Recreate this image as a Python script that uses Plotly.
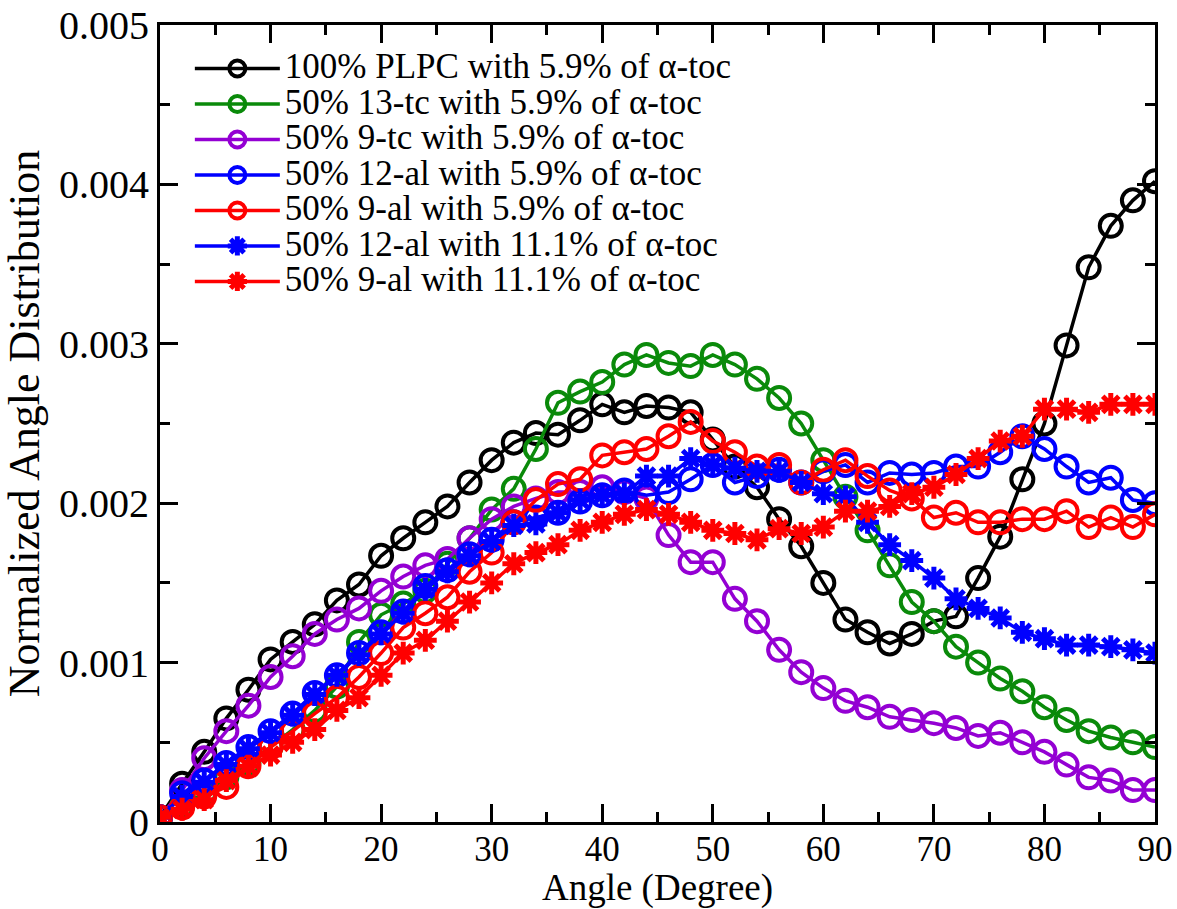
import plotly.graph_objects as go

angle = list(range(0, 92, 2))

plpc_59 = [0.00003, 0.00024, 0.00044, 0.00065, 0.00083, 0.00102, 0.00113, 0.00124, 0.00139, 0.00149,
           0.00167, 0.00178, 0.00188, 0.00198, 0.00213, 0.00227, 0.00238, 0.00244, 0.00243, 0.00252,
           0.00262, 0.00257, 0.00261, 0.00260, 0.00257, 0.00240, 0.00223, 0.00210, 0.00190, 0.00173,
           0.00150, 0.00127, 0.00119, 0.00112, 0.00118, 0.00126, 0.00129, 0.00153, 0.00179, 0.00215,
           0.00250, 0.00299, 0.00348, 0.00374, 0.00390, 0.00402]

tc13_59 = [0.00003, 0.00010, 0.00018, 0.00028, 0.00037, 0.00047, 0.00058, 0.00070, 0.00085, 0.00113,
           0.00130, 0.00137, 0.00145, 0.00162, 0.00178, 0.00196, 0.00209, 0.00234, 0.00263, 0.00270,
           0.00276, 0.00287, 0.00293, 0.00288, 0.00286, 0.00293, 0.00287, 0.00278, 0.00266, 0.00250,
           0.00227, 0.00204, 0.00183, 0.00161, 0.00138, 0.00126, 0.00110, 0.00100, 0.00090, 0.00082,
           0.00072, 0.00064, 0.00057, 0.00053, 0.00050, 0.00047]

tc9_59 = [0.00003, 0.00020, 0.00040, 0.00057, 0.00073, 0.00091, 0.00104, 0.00118, 0.00127, 0.00134,
          0.00145, 0.00154, 0.00161, 0.00165, 0.00178, 0.00190, 0.00198, 0.00203, 0.00207, 0.00207,
          0.00210, 0.00207, 0.00203, 0.00180, 0.00163, 0.00163, 0.00140, 0.00126, 0.00108, 0.00094,
          0.00084, 0.00076, 0.00072, 0.00066, 0.00064, 0.00062, 0.00059, 0.00054, 0.00056, 0.00050,
          0.00044, 0.00036, 0.00028, 0.00026, 0.00020, 0.00020]

al12_59 = [0.00003, 0.00018, 0.00026, 0.00037, 0.00047, 0.00057, 0.00068, 0.00081, 0.00092, 0.00106,
           0.00119, 0.00132, 0.00148, 0.00158, 0.00168, 0.00177, 0.00188, 0.00191, 0.00194, 0.00201,
           0.00205, 0.00208, 0.00205, 0.00207, 0.00215, 0.00224, 0.00213, 0.00217, 0.00221, 0.00213,
           0.00220, 0.00224, 0.00213, 0.00219, 0.00218, 0.00219, 0.00223, 0.00223, 0.00232, 0.00242,
           0.00234, 0.00223, 0.00213, 0.00216, 0.00202, 0.00200]

al9_59 = [0.00003, 0.00009, 0.00016, 0.00022, 0.00035, 0.00047, 0.00057, 0.00068, 0.00078, 0.00091,
          0.00106, 0.00122, 0.00131, 0.00141, 0.00157, 0.00169, 0.00188, 0.00202, 0.00212, 0.00215,
          0.00230, 0.00232, 0.00234, 0.00242, 0.00251, 0.00239, 0.00232, 0.00223, 0.00224, 0.00213,
          0.00221, 0.00227, 0.00217, 0.00208, 0.00203, 0.00191, 0.00194, 0.00188, 0.00188, 0.00190,
          0.00190, 0.00195, 0.00185, 0.00191, 0.00185, 0.00193]

al12_111 = [0.00003, 0.00016, 0.00025, 0.00036, 0.00046, 0.00056, 0.00067, 0.00080, 0.00092, 0.00105,
            0.00118, 0.00131, 0.00146, 0.00157, 0.00167, 0.00176, 0.00186, 0.00187, 0.00194, 0.00202,
            0.00205, 0.00206, 0.00217, 0.00217, 0.00228, 0.00224, 0.00222, 0.00220, 0.00220, 0.00213,
            0.00206, 0.00204, 0.00188, 0.00174, 0.00164, 0.00153, 0.00140, 0.00134, 0.00128, 0.00119,
            0.00115, 0.00111, 0.00111, 0.00110, 0.00108, 0.00106]

al9_111 = [0.00003, 0.00008, 0.00014, 0.00026, 0.00035, 0.00042, 0.00050, 0.00058, 0.00070, 0.00078,
           0.00092, 0.00106, 0.00114, 0.00126, 0.00138, 0.00150, 0.00162, 0.00169, 0.00174, 0.00183,
           0.00188, 0.00193, 0.00196, 0.00193, 0.00188, 0.00183, 0.00181, 0.00177, 0.00184, 0.00181,
           0.00185, 0.00195, 0.00195, 0.00198, 0.00206, 0.00210, 0.00218, 0.00228, 0.00239, 0.00242,
           0.00259, 0.00259, 0.00257, 0.00262, 0.00262, 0.00262]

names = ["100% PLPC with 5.9% of α-toc",
         "50% 13-tc with 5.9% of α-toc",
         "50% 9-tc with 5.9% of α-toc",
         "50% 12-al with 5.9% of α-toc",
         "50% 9-al with 5.9% of α-toc",
         "50% 12-al with 11.1% of α-toc",
         "50% 9-al with 11.1% of α-toc"]
series = [plpc_59, tc13_59, tc9_59, al12_59, al9_59, al12_111, al9_111]
colors = ["#000000", "#0a8a0a", "#9400d3", "#0000ff", "#ff0000", "#0000ff", "#ff0000"]
symbols = ["circle-open"] * 5 + ["asterisk-open"] * 2

y_ticks = [0, 0.001, 0.002, 0.003, 0.004, 0.005]
y_ticktext = ["0", "0.001", "0.002", "0.003", "0.004", "0.005"]
x_ticks = [0, 10, 20, 30, 40, 50, 60, 70, 80, 90]

FONT = "Liberation Serif"

fig = go.Figure()
for name, ys, col, sym in zip(names, series, colors, symbols):
    star = sym.startswith("asterisk")
    fig.add_trace(go.Scatter(
        x=angle, y=ys, mode="lines+markers",
        name='<span style="font-size:35px">' + name + '</span>',
        line=dict(color=col, width=3.5),
        marker=dict(symbol=sym, size=19 if star else 22, color=col,
                    line=dict(color=col, width=5 if star else 4)),
    ))

axis_common = dict(
    showline=True, linecolor="black", linewidth=3, mirror="allticks",
    ticks="inside", ticklen=18, tickwidth=3, tickcolor="black",
    showgrid=False, zeroline=False, automargin=False, ticklabeloverflow="allow",
)

fig.update_xaxes(
    range=[0, 90], tickvals=x_ticks,
    tickfont=dict(family=FONT, size=35, color="black"),
    ticklabelstandoff=-6,
    minor=dict(dtick=5, ticks="inside", ticklen=10, tickwidth=3, tickcolor="black"),
    title=dict(text="Angle (Degree)", font=dict(family=FONT, size=37, color="black"), standoff=0),
    **axis_common,
)
fig.update_yaxes(
    range=[0, 0.005], tickvals=y_ticks, ticktext=y_ticktext,
    tickfont=dict(family=FONT, size=40, color="black"),
    minor=dict(dtick=0.0005, ticks="inside", ticklen=10, tickwidth=3, tickcolor="black"),
    title=dict(text="Normalized Angle Distribution", font=dict(family=FONT, size=44, color="black"), standoff=6),
    **axis_common,
)

fig.update_layout(
    width=1177, height=909,
    margin=dict(l=160, r=22, t=25, b=87),
    paper_bgcolor="white", plot_bgcolor="white",
    font=dict(family=FONT, color="black"),
    showlegend=True,
    legend=dict(x=0.030, y=0.974, xanchor="left", yanchor="top",
                bgcolor="rgba(0,0,0,0)", borderwidth=0,
                font=dict(family=FONT, size=25, color="black"),
                itemwidth=85, tracegroupgap=0),
)

# remove the default page margin so the figure fills the window exactly
fig.write_html("out.html", config={"displayModeBar": False},
               post_script="document.body.style.margin='0';")
